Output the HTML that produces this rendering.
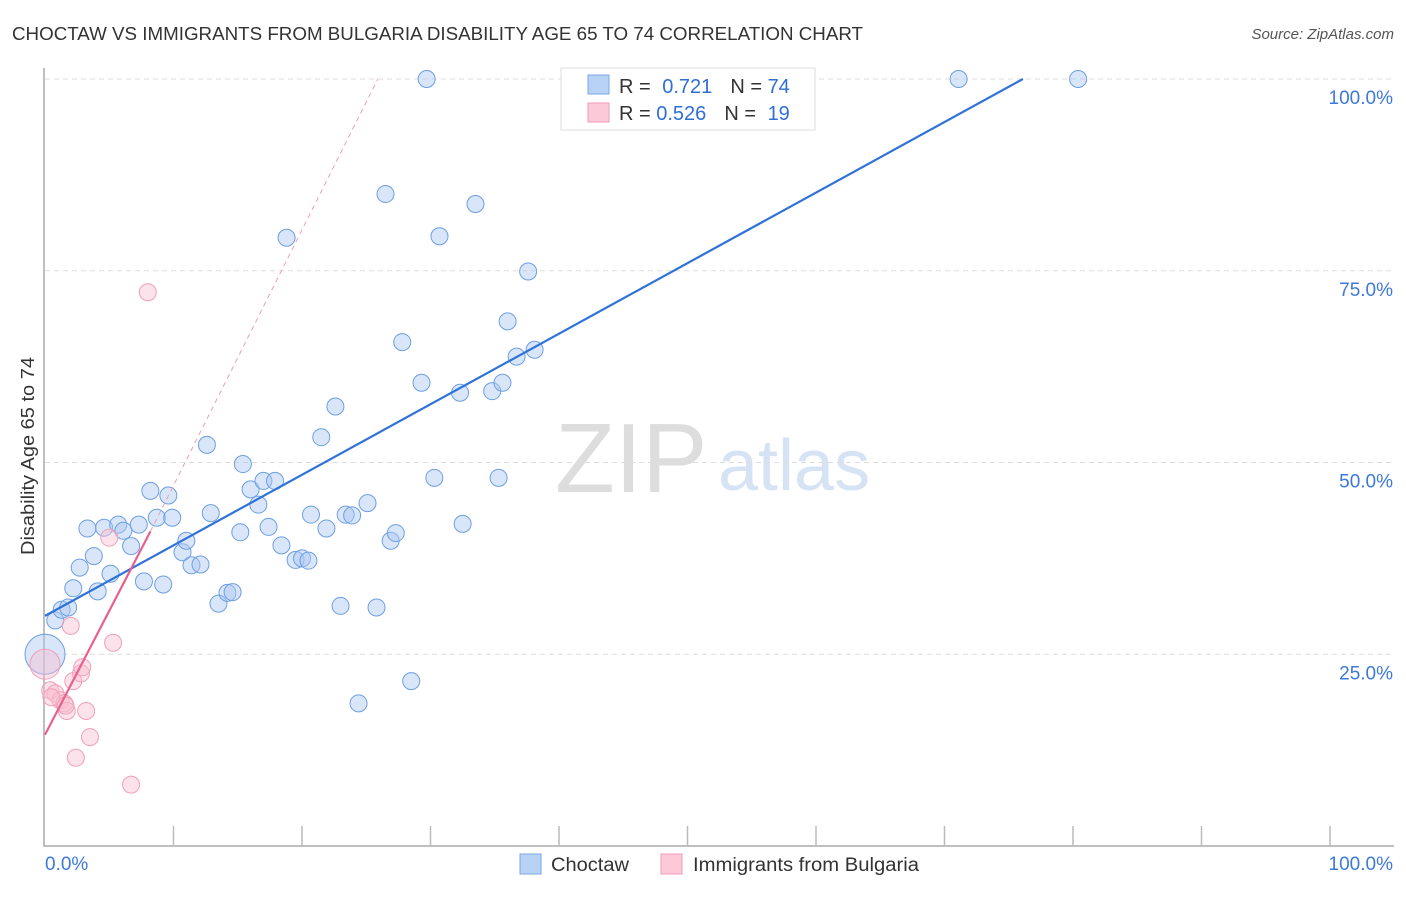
<!DOCTYPE html>
<html><head><meta charset="utf-8"><style>
body{margin:0;background:#fff;font-family:"Liberation Sans",sans-serif}
svg text{font-family:"Liberation Sans",sans-serif}
</style></head><body>
<svg id="c" width="1406" height="892">
<text x="12" y="40" font-size="18" fill="#333" textLength="851" lengthAdjust="spacingAndGlyphs">CHOCTAW VS IMMIGRANTS FROM BULGARIA DISABILITY AGE 65 TO 74 CORRELATION CHART</text>
<text x="1394" y="39" font-size="15" fill="#555" font-style="italic" text-anchor="end">Source: ZipAtlas.com</text>
<text x="34" y="456" font-size="18" fill="#333" text-anchor="middle" textLength="198" lengthAdjust="spacingAndGlyphs" transform="rotate(-90 34 456)">Disability Age 65 to 74</text>
<text x="555" y="492" font-size="98" fill="#ddd" font-family="Liberation Serif">ZIP</text>
<text x="718" y="490" font-size="72" fill="#d5e3f4">atlas</text>
<g id="grid"></g><g id="marks"></g>
<g>
<rect x="561" y="68" width="254" height="62" fill="#fff" stroke="#ddd"/>
<rect x="588" y="75" width="21" height="19" fill="#b7d2f5" stroke="#7aa8e6"/>
<rect x="588" y="103" width="21" height="19" fill="#fbc9d8" stroke="#f09ab5"/>
<text x="619" y="93" font-size="20" fill="#333">R = <tspan fill="#2f6fd6" dx="6">0.721</tspan><tspan fill="#333" dx="18">N = </tspan><tspan fill="#2f6fd6">74</tspan></text>
<text x="619" y="120" font-size="20" fill="#333">R = <tspan fill="#2f6fd6">0.526</tspan><tspan fill="#333" dx="18">N = </tspan><tspan fill="#2f6fd6" dx="6">19</tspan></text>
</g>
<g>
<rect x="520" y="854" width="21" height="20" fill="#b7d2f5" stroke="#7aa8e6"/>
<text x="551" y="871" font-size="19" fill="#333" textLength="78" lengthAdjust="spacingAndGlyphs">Choctaw</text>
<rect x="661" y="854" width="21" height="20" fill="#fbc9d8" stroke="#f09ab5"/>
<text x="693" y="871" font-size="19" fill="#333" textLength="226" lengthAdjust="spacingAndGlyphs">Immigrants from Bulgaria</text>
</g>
</svg>
<script>
const choctawX=[0,0.8,1.3,1.8,2.2,2.7,3.3,3.8,4.1,4.6,5.1,5.7,6.1,6.7,7.3,7.7,8.2,8.7,9.2,9.6,9.9,10.7,11,11.4,12.1,12.6,12.9,13.5,14.2,14.6,15.2,15.4,16,16.6,17,17.4,17.9,18.4,18.8,19.5,20,20.5,20.7,21.5,21.9,22.6,23,23.4,23.9,24.4,25.1,25.8,26.5,26.9,27.3,27.8,28.5,29.3,29.7,30.3,30.7,32.3,32.5,33.5,34.8,35.3,35.6,36,36.7,37.6,38.1,71.1,80.4];
const choctawY=[25,29.4,30.8,31.1,33.6,36.3,41.4,37.8,33.2,41.5,35.5,41.9,41.1,39.1,41.9,34.5,46.3,42.8,34.1,45.7,42.8,38.3,39.8,36.6,36.7,52.3,43.4,31.6,33,33.1,40.9,49.8,46.5,44.5,47.6,41.6,47.6,39.2,79.3,37.3,37.5,37.2,43.2,53.3,41.4,57.3,31.3,43.2,43.1,18.6,44.7,31.1,85,39.8,40.8,65.7,21.5,60.4,100,48,79.5,59.1,42,83.7,59.3,48,60.4,68.4,63.8,74.9,64.7,100,100];
const bulgX=[0,0.4,0.8,1.2,1.5,1.7,2,2.2,2.4,2.8,2.9,3.2,3.5,5,5.3,6.7,8,1.6,0.5];
const bulgY=[23.7,20.3,19.9,19,18.6,17.6,28.7,21.5,11.5,22.5,23.3,17.6,14.2,40.2,26.5,8,72.2,18.3,19.4];
const xTicks=[10,20,30,40,50,60,70,80,90,100];
const yTicks=[25,50,75,100];
const X=v=>45+v*12.85, Y=v=>846-v*7.67;
const NS='http://www.w3.org/2000/svg';
const grid=document.getElementById('grid'), marks=document.getElementById('marks');
function mk(p,tag,a){const e=document.createElementNS(NS,tag);for(const k in a)e.setAttribute(k,a[k]);p.appendChild(e);return e;}
yTicks.forEach(t=>{
const l=mk(grid,'line',{x1:45,x2:1394,y1:Y(t),y2:Y(t),stroke:'#ddd','stroke-dasharray':'5,4'});


const tx=mk(grid,'text',{x:1393,y:Y(t)+25,'font-size':19,fill:'#3d79d8','text-anchor':'end'});tx.textContent=t.toFixed(1)+'%';


});
const ax=mk(grid,'path',{d:'M44 68V846H1394',fill:'none',stroke:'#aaa','stroke-width':1.5});


xTicks.forEach(t=>{
const l=mk(grid,'line',{x1:X(t),x2:X(t),y1:826,y2:846,stroke:'#bbb','stroke-width':1.5});


});
[['0.0%',45,'start'],['100.0%',1393,'end']].forEach(d=>{
const tx=mk(grid,'text',{x:d[1],y:870,'font-size':19,fill:'#3d79d8','text-anchor':d[2]});tx.textContent=d[0];


});
choctawX.forEach((v,i)=>{
const c=mk(marks,'circle',{cx:X(v),cy:Y(choctawY[i]),r:i==0?20:8.5,fill:'rgba(170,200,242,0.45)',stroke:'#6d9fe2','stroke-width':1});


});
bulgX.forEach((v,i)=>{
const c=mk(marks,'circle',{cx:X(v),cy:Y(bulgY[i]),r:i==0?15:8.5,fill:'rgba(248,190,208,0.45)',stroke:'#f0a0ba','stroke-width':1});


});
const tb=mk(marks,'line',{x1:X(0),y1:Y(30),x2:X(76.1),y2:Y(100),stroke:'#2f73d8','stroke-width':2.2});


const tpd=mk(marks,'line',{x1:X(8.2),y1:Y(41),x2:X(25.9),y2:Y(100),stroke:'#eaa0b8','stroke-width':1,'stroke-dasharray':'5,4'});


const tp=mk(marks,'line',{x1:X(0),y1:Y(14.5),x2:X(8.2),y2:Y(41),stroke:'#e8608c','stroke-width':2.2});


</script>
</body></html>
